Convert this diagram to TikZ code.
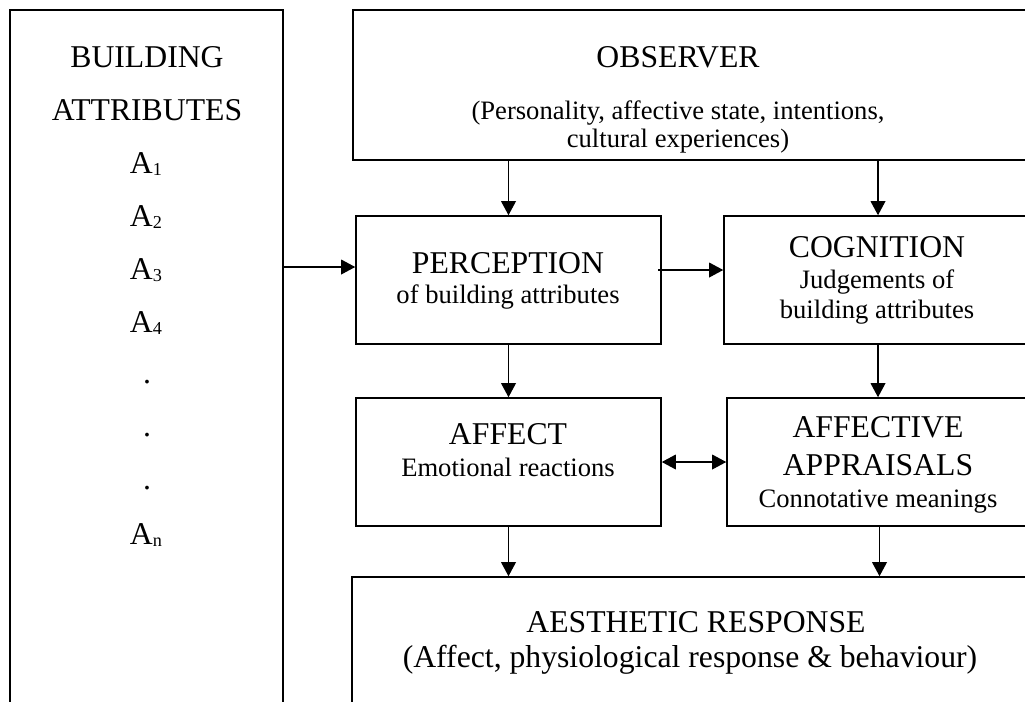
\documentclass[tikz,border=0pt]{standalone}
\usepackage{fontspec}
\setmainfont{Liberation Serif}
\usetikzlibrary{arrows.meta,fit}
\newcommand{\Asub}[1]{A\raisebox{-1.2pt}{\fontsize{8.2}{8}\selectfont #1}}
\begin{document}
\begin{tikzpicture}[x=0.45pt,y=-0.45pt,
  box/.style={draw, line width=0.7pt, inner sep=0pt},
  arr/.style={line width=0.6pt, -{Triangle[length=6.3pt,width=6.6pt]}},
  darr/.style={line width=0.6pt, {Triangle[length=6.3pt,width=6.6pt]}-{Triangle[length=6.3pt,width=6.6pt]}},
  ttl/.style={anchor=base, inner sep=0pt, font=\fontsize{14.27}{17}\selectfont},
  sub/.style={anchor=base, inner sep=0pt, font=\fontsize{11.97}{14}\selectfont}]
\useasboundingbox (0,0) rectangle (1025,701);
\clip (0,0) rectangle (1025,701);

% boxes
\node[box, fit={(10,10) (283,720)}] (bld) {};
\node[box, fit={(353,10) (1040,160)}] (obs) {};
\node[box, fit={(356,216) (661,344)}] (perc) {};
\node[box, fit={(724,216) (1032,344)}] (cog) {};
\node[box, fit={(356,398) (661,526)}] (aff) {};
\node[box, fit={(727,398) (1032,526)}] (aa) {};
\node[box, fit={(352,577) (1040,720)}] (aes) {};

% building attributes texts
\node[ttl] (t1) at (147,67) {BUILDING};
\node[ttl] (t2) at (147,120) {ATTRIBUTES};
\node[ttl] (a1) at (146,173) {\Asub{1}};
\node[ttl] (a2) at (146,226) {\Asub{2}};
\node[ttl] (a3) at (146,279) {\Asub{3}};
\node[ttl] (a4) at (146,332) {\Asub{4}};
\node[ttl] (d1) at (147,383) {.};
\node[ttl] (d2) at (147,436) {.};
\node[ttl] (d3) at (147,489) {.};
\node[ttl] (an) at (146,544) {\Asub{n}};

% observer
\node[ttl] (o1) at (678,67) {OBSERVER};
\node[sub] (o2) at (678,119) {(Personality, affective state, intentions,};
\node[sub] (o3) at (678,147) {cultural experiences)};

% perception
\node[ttl] (p1) at (508,273) {PERCEPTION};
\node[sub] (p2) at (508,303) {of building attributes};

% cognition
\node[ttl] (c1) at (877,257) {COGNITION};
\node[sub] (c2) at (877,288) {Judgements of};
\node[sub] (c3) at (877,318) {building attributes};

% affect
\node[ttl] (f1) at (508,444) {AFFECT};
\node[sub] (f2) at (508,476) {Emotional reactions};

% affective appraisals
\node[ttl] (aa1) at (878,437) {AFFECTIVE};
\node[ttl] (aa2) at (878,475) {APPRAISALS};
\node[sub] (aa3) at (878,507) {Connotative meanings};

% aesthetic response
\node[ttl] (e1) at (696,632) {AESTHETIC RESPONSE};
\node[ttl] (e2) at (690,667) {(Affect, physiological response \& behaviour)};

% connectors
\coordinate (b1) at (283,267);
\draw[arr] (b1) -- (b1 -| perc.west);
\coordinate (pc) at (658,270);
\draw[arr] (pc) -- (pc -| cog.west);
\draw[arr] (obs.south -| perc.north) -- (perc.north);
\draw[arr] (obs.south -| cog.north) -- (cog.north);
\draw[arr] (perc.south) -- (aff.north);
\draw[arr] (cog.south) -- (cog.south |- aa.north);
\draw[arr] (aff.south) -- (aff.south |- aes.north);
\draw[arr] (aa.south) -- (aa.south |- aes.north);
\draw[darr] (aff.east) -- (aa.west);
\end{tikzpicture}
\end{document}
